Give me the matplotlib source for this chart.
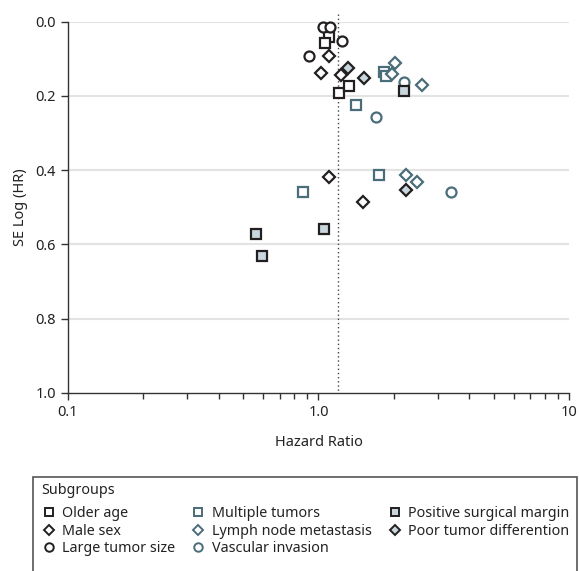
import matplotlib
matplotlib.use('Agg')
import matplotlib.pyplot as plt
from matplotlib.patches import Rectangle
from matplotlib.lines import Line2D
from matplotlib.ticker import FixedLocator, NullFormatter

plt.rcParams['font.family'] = ['Noto Sans', 'DejaVu Sans']

# subgroup data: hazard ratio and SE of log(HR)
older_age_hr = [1.106, 1.063, 1.213, 1.322]
older_age_se = [0.041, 0.057, 0.191, 0.172]
male_sex_hr = [1.106, 1.025, 1.228, 1.104, 1.512]
male_sex_se = [0.092, 0.138, 0.144, 0.419, 0.485]
large_size_hr = [1.047, 1.113, 1.243, 0.921]
large_size_se = [0.014, 0.014, 0.052, 0.092]
multiple_hr = [1.83, 1.86, 1.41, 0.866, 1.746]
multiple_se = [0.135, 0.146, 0.225, 0.460, 0.413]
lymph_hr = [2.02, 1.96, 2.60, 2.238, 2.47]
lymph_se = [0.110, 0.141, 0.170, 0.413, 0.433]
vascular_hr = [2.20, 1.694, 3.39]
vascular_se = [0.162, 0.257, 0.460]
margin_hr = [2.20, 0.561, 0.594, 1.057]
margin_se = [0.188, 0.573, 0.631, 0.558]
poor_diff_hr = [1.31, 1.522, 2.238]
poor_diff_se = [0.125, 0.152, 0.453]

pooled_hr = 1.195

dark = '#231f20'
teal = '#4a6d7a'
fill = '#c8d7dd'

groups = [
    ('Older age', older_age_hr, older_age_se, 's', dark, 'white'),
    ('Male sex', male_sex_hr, male_sex_se, 'D', dark, 'white'),
    ('Large tumor size', large_size_hr, large_size_se, 'o', dark, 'white'),
    ('Multiple tumors', multiple_hr, multiple_se, 's', teal, 'white'),
    ('Lymph node metastasis', lymph_hr, lymph_se, 'D', teal, 'white'),
    ('Vascular invasion', vascular_hr, vascular_se, 'o', teal, 'white'),
    ('Positive surgical margin', margin_hr, margin_se, 's', dark, fill),
    ('Poor tumor differention', poor_diff_hr, poor_diff_se, 'D', dark, fill),
]
msizes = {'s': 7.2, 'D': 6.0, 'o': 7.2}

fig = plt.figure(figsize=(5.79, 5.71), dpi=100)
ax = fig.add_axes([0.117, 0.312, 0.866, 0.650])

for y in [0.0, 0.2, 0.4, 0.6, 0.8]:
    ax.axhline(y, color='#e3e3e3', lw=1.5, zorder=0)

ax.plot([pooled_hr, pooled_hr], [-0.02, 1.0], ls=(0, (1, 2)), color='#444444',
        lw=1.0, clip_on=False, zorder=1)

handles = []
for name, hr, se, m, ec, fc in groups:
    ax.plot(hr, se, ls='none', marker=m, ms=msizes[m], mec=ec, mfc=fc,
            mew=1.6, clip_on=False, zorder=3)
    handles.append(Line2D([], [], ls='none', marker=m, ms=msizes[m] * 0.85,
                          mec=ec, mfc=fc, mew=1.4, label=name))

ax.set_xscale('log')
ax.set_xlim(0.1, 10)
ax.set_ylim(1.0, 0.0)
ax.xaxis.set_major_locator(FixedLocator([0.1, 1, 10]))
ax.set_xticklabels(['0.1', '1.0', '10'])
ax.xaxis.set_minor_locator(FixedLocator([0.2, 0.3, 0.4, 0.5, 0.6, 0.7, 0.8, 0.9,
                                         2, 3, 4, 5, 6, 7, 8, 9]))
ax.xaxis.set_minor_formatter(NullFormatter())
ax.set_yticks([0.0, 0.2, 0.4, 0.6, 0.8, 1.0])
ax.set_yticklabels(['0.0', '0.2', '0.4', '0.6', '0.8', '1.0'])

for s in ['top', 'right']:
    ax.spines[s].set_visible(False)
for s in ['left', 'bottom']:
    ax.spines[s].set_color('#333333')
    ax.spines[s].set_linewidth(1.0)
ax.tick_params(which='major', length=5, width=1, color='#333333',
               labelsize=10.5, labelcolor='#222222')
ax.tick_params(which='minor', length=4, width=1, color='#333333')
ax.set_xlabel('Hazard Ratio', fontsize=10.5, color='#222222', labelpad=11)
ax.set_ylabel('SE Log (HR)', fontsize=10.5, color='#222222', labelpad=5)

# legend box, bottom edge runs off the figure
fig.patches.append(Rectangle((33 / 579, -0.05), (577 - 33) / 579, 0.05 + 1 - 477 / 571,
                             transform=fig.transFigure, fill=False,
                             edgecolor='#555555', lw=1.2))
fig.text(41 / 579, 1 - 490 / 571, 'Subgroups', fontsize=10.3, color='#222222',
         va='center', ha='left')
leg = fig.legend(handles=handles, ncol=3, loc='upper left',
                 bbox_to_anchor=(33 / 579, 1 - 496 / 571), frameon=False,
                 fontsize=10.3, handlelength=0.8, handletextpad=0.55,
                 columnspacing=1.2, labelspacing=0.18, borderpad=0.2)
for t in leg.get_texts():
    t.set_color('#222222')

fig.savefig('out.png', dpi=100)
